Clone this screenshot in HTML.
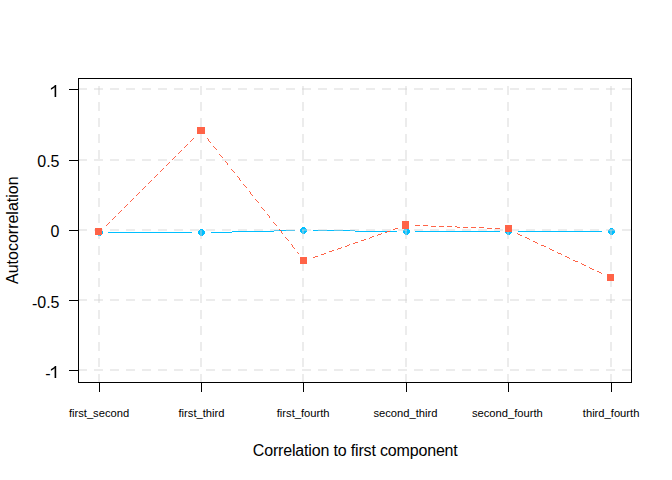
<!DOCTYPE html><html><head><meta charset="utf-8"><style>html,body{margin:0;padding:0;background:#fff;width:672px;height:480px;overflow:hidden}svg{display:block}text{font-family:"Liberation Sans",sans-serif;fill:#000}</style></head><body>
<svg width="672" height="480" viewBox="0 0 672 480">
<rect width="672" height="480" fill="#fff"/>
<line x1="108.00" y1="232.50" x2="192.00" y2="232.50" stroke="#00BFFF" stroke-width="1" shape-rendering="crispEdges"/>
<line x1="211.00" y1="232.51" x2="295.00" y2="230.50" stroke="#00BFFF" stroke-width="1" shape-rendering="crispEdges"/>
<line x1="313.00" y1="230.46" x2="397.00" y2="231.56" stroke="#00BFFF" stroke-width="1" shape-rendering="crispEdges"/>
<line x1="415.00" y1="231.55" x2="500.00" y2="231.50" stroke="#00BFFF" stroke-width="1" shape-rendering="crispEdges"/>
<line x1="518.00" y1="231.50" x2="602.00" y2="231.50" stroke="#00BFFF" stroke-width="1" shape-rendering="crispEdges"/>
<circle cx="99.5" cy="232.5" r="3.4" fill="#00BFFF" shape-rendering="crispEdges"/>
<circle cx="201.5" cy="232.5" r="3.4" fill="#00BFFF" shape-rendering="crispEdges"/>
<circle cx="303.5" cy="230.5" r="3.4" fill="#00BFFF" shape-rendering="crispEdges"/>
<circle cx="406.5" cy="231.5" r="3.4" fill="#00BFFF" shape-rendering="crispEdges"/>
<circle cx="508.5" cy="231.5" r="3.4" fill="#00BFFF" shape-rendering="crispEdges"/>
<circle cx="611.5" cy="231.5" r="3.4" fill="#00BFFF" shape-rendering="crispEdges"/>
<g stroke="rgba(211,211,211,0.43)" stroke-width="2" fill="none">
<line x1="78" y1="89" x2="631" y2="89" stroke-dasharray="9 7"/>
<line x1="78" y1="160" x2="631" y2="160" stroke-dasharray="9 7"/>
<line x1="78" y1="230" x2="631" y2="230" stroke-dasharray="9 7"/>
<line x1="78" y1="300" x2="631" y2="300" stroke-dasharray="9 7"/>
<line x1="78" y1="370" x2="631" y2="370" stroke-dasharray="9 7"/>
<line x1="99" y1="383" x2="99" y2="79" stroke-dasharray="9 7"/>
<line x1="201" y1="383" x2="201" y2="79" stroke-dasharray="9 7"/>
<line x1="303" y1="383" x2="303" y2="79" stroke-dasharray="9 7"/>
<line x1="406" y1="383" x2="406" y2="79" stroke-dasharray="9 7"/>
<line x1="508" y1="383" x2="508" y2="79" stroke-dasharray="9 7"/>
<line x1="611" y1="383" x2="611" y2="79" stroke-dasharray="9 7"/>
</g>
<line x1="105.60" y1="226.35" x2="195.59" y2="136.36" stroke="#FF2200" stroke-width="0.706" stroke-dasharray="5.90 2.59" shape-rendering="crispEdges"/>
<line x1="207.22" y1="138.39" x2="298.72" y2="253.84" stroke="#FF3814" stroke-width="0.783" stroke-dasharray="5.60 4.06" shape-rendering="crispEdges"/>
<line x1="312.55" y1="257.83" x2="398.37" y2="227.99" stroke="#FF5A3C" stroke-width="0.944" stroke-dasharray="5.30 3.17" shape-rendering="crispEdges"/>
<line x1="415.44" y1="225.48" x2="500.31" y2="228.62" stroke="#FF6347" stroke-width="0.998" stroke-dasharray="5.00 3.00" shape-rendering="crispEdges"/>
<line x1="516.99" y1="233.50" x2="603.51" y2="274.23" stroke="#FF5233" stroke-width="0.904" stroke-dasharray="5.30 3.54" shape-rendering="crispEdges"/>
<rect x="95" y="228" width="7" height="7" fill="#FF6347"/>
<rect x="197" y="127" width="8" height="7" fill="#FF6347"/>
<rect x="300" y="257" width="7" height="7" fill="#FF6347"/>
<rect x="402" y="221" width="7" height="8" fill="#FF6347"/>
<rect x="505" y="225" width="7" height="7" fill="#FF6347"/>
<rect x="607" y="274" width="7" height="7" fill="#FF6347"/>
<rect x="78.5" y="78.5" width="553" height="304" fill="none" stroke="#000" stroke-width="1"/>
<line x1="69" y1="89.5" x2="78" y2="89.5" stroke="#000" stroke-width="1"/>
<line x1="69" y1="160.5" x2="78" y2="160.5" stroke="#000" stroke-width="1"/>
<line x1="69" y1="230.5" x2="78" y2="230.5" stroke="#000" stroke-width="1"/>
<line x1="69" y1="300.5" x2="78" y2="300.5" stroke="#000" stroke-width="1"/>
<line x1="69" y1="370.5" x2="78" y2="370.5" stroke="#000" stroke-width="1"/>
<line x1="99.5" y1="383" x2="99.5" y2="392" stroke="#000" stroke-width="1"/>
<line x1="201.5" y1="383" x2="201.5" y2="392" stroke="#000" stroke-width="1"/>
<line x1="303.5" y1="383" x2="303.5" y2="392" stroke="#000" stroke-width="1"/>
<line x1="406.5" y1="383" x2="406.5" y2="392" stroke="#000" stroke-width="1"/>
<line x1="508.5" y1="383" x2="508.5" y2="392" stroke="#000" stroke-width="1"/>
<line x1="611.5" y1="383" x2="611.5" y2="392" stroke="#000" stroke-width="1"/>
<path d="M56.2 85L56.2 97L54.6 97L54.6 87.3C54 87.9 53.2 88.5 52.3 89C51.8 89.3 51.3 89.5 50.9 89.7L50.9 88.2C51.6 87.9 52.4 87.4 53.2 86.8C54 86.2 54.6 85.6 54.9 85Z" fill="#000"/>
<text x="59.5" y="167" font-size="16" text-anchor="end">0.5</text>
<text x="59.5" y="237" font-size="16" text-anchor="end">0</text>
<text x="37.23" y="309" font-size="16" text-anchor="end">-</text>
<text x="59.5" y="308" font-size="16" text-anchor="end">0.5</text>
<text x="50.6" y="379" font-size="16" text-anchor="end">-</text>
<path d="M56.2 85L56.2 97L54.6 97L54.6 87.3C54 87.9 53.2 88.5 52.3 89C51.8 89.3 51.3 89.5 50.9 89.7L50.9 88.2C51.6 87.9 52.4 87.4 53.2 86.8C54 86.2 54.6 85.6 54.9 85Z" fill="#000" transform="translate(0,281)"/>
<text x="99.05" y="417" font-size="11.2" text-anchor="middle">first_second</text>
<text x="201.5" y="417" font-size="11.2" text-anchor="middle">first_third</text>
<text x="303.15" y="417" font-size="11.2" text-anchor="middle">first_fourth</text>
<text x="405.45" y="417" font-size="11.2" text-anchor="middle">second_third</text>
<text x="507.4" y="417" font-size="11.2" text-anchor="middle">second_fourth</text>
<text x="611.1" y="417" font-size="11.2" text-anchor="middle">third_fourth</text>
<text x="355.3" y="456" font-size="16" text-anchor="middle" textLength="205" lengthAdjust="spacing">Correlation to first component</text>
<text transform="translate(18.1,230.2) rotate(-90)" x="0" y="0" font-size="16" text-anchor="middle">Autocorrelation</text>
</svg></body></html>
